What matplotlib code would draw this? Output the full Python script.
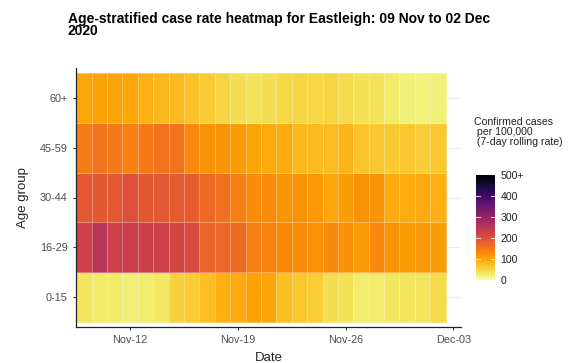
import matplotlib
matplotlib.use("Agg")
import matplotlib.pyplot as plt
import matplotlib.dates as mdates
import numpy as np
import pandas as pd

plt.rcParams["font.family"] = ["Liberation Sans", "DejaVu Sans"]

# ── Data (7-day rolling case rate per 100,000) ─────────────────
dates = pd.date_range("2020-11-09", "2020-12-02", freq="D")
age_groups = ["0-15", "16-29", "30-44", "45-59", "60+"]

rate_0_15 = [35, 30, 30, 25, 28, 32, 55, 62, 75, 90, 95, 105,
             100, 75, 65, 60, 42, 40, 28, 28, 35, 35, 35, 45]
rate_16_29 = [225, 255, 228, 232, 230, 225, 215, 212, 175, 170, 165, 140,
              135, 130, 125, 120, 128, 122, 110, 130, 118, 110, 112, 108]
rate_30_44 = [188, 190, 188, 200, 190, 188, 185, 180, 165, 160, 140, 125,
              125, 118, 120, 112, 98, 108, 120, 118, 95, 92, 95, 88]
rate_45_59 = [145, 155, 148, 140, 148, 155, 155, 130, 120, 118, 110, 100,
              95, 92, 82, 80, 78, 84, 70, 65, 64, 66, 58, 66]
rate_60p = [98, 102, 100, 98, 88, 82, 80, 72, 62, 52, 42, 38,
            42, 50, 52, 50, 52, 45, 40, 38, 30, 22, 20, 25]

cbar_ticks = [0, 100, 200, 300, 400, 500]
cbar_labels = ["0", "100", "200", "300", "400", "500+"]
x_ticks = ["2020-11-12", "2020-11-19", "2020-11-26", "2020-12-03"]

grid = np.array([rate_0_15, rate_16_29, rate_30_44, rate_45_59, rate_60p])

# ── Figure ─────────────────────────────────────────────────────
fig = plt.figure(figsize=(5.71, 3.63), dpi=100, facecolor="white")
ax = fig.add_axes([76 / 571, 1 - 327 / 363, 385 / 571, 259 / 363])

xnum = mdates.date2num(dates)
x_edges = np.append(xnum - 0.5, xnum[-1] + 0.5)
y_edges = np.arange(len(age_groups) + 1) - 0.5

for i in range(len(age_groups)):
    ax.axhline(i, color="#EBEBEB", lw=0.8, zorder=0)

mesh = ax.pcolormesh(x_edges, y_edges, grid, cmap="inferno_r", vmin=0, vmax=500,
                     edgecolors=(1, 1, 1, 0.3), linewidth=0.6, zorder=2)

ax.set_xlim(xnum[0] - 0.52, xnum[-1] + 1.5)
ax.set_ylim(-0.6, 4.6)
ax.set_yticks(range(len(age_groups)))
ax.set_yticklabels(age_groups)
ax.set_xticks(mdates.date2num(pd.to_datetime(x_ticks)))
ax.xaxis.set_major_formatter(mdates.DateFormatter("%b-%d"))
ax.tick_params(axis="both", labelsize=7.8, colors="#333333", length=2.5, width=0.8,
               labelcolor="#4D4D4D")
for side in ["top", "right"]:
    ax.spines[side].set_visible(False)
for side in ["left", "bottom"]:
    ax.spines[side].set_color("#222222")
    ax.spines[side].set_linewidth(0.9)

ax.set_xlabel("Date", fontsize=9.5, color="#222222", labelpad=5)
ax.set_ylabel("Age group", fontsize=9.5, color="#222222", labelpad=8)

fig.text(68 / 571, 1 - 12 / 363,
         "Age-stratified case rate heatmap for Eastleigh: 09 Nov to 02 Dec\n2020",
         fontsize=10, fontweight="bold", ha="left", va="top", linespacing=0.85)

# ── Colour bar legend ──────────────────────────────────────────
cax = fig.add_axes([476 / 571, 1 - 280 / 363, 19 / 571, 105 / 363])
cb = fig.colorbar(mesh, cax=cax)
cb.set_ticks(cbar_ticks)
cb.set_ticklabels(cbar_labels)
cb.outline.set_visible(False)
cax.tick_params(labelsize=7.6, length=0, pad=4, labelcolor="#222222")
for t in cbar_ticks[1:-1]:
    cax.plot([0, 0.2], [t, t], color="white", lw=0.6, transform=cax.get_yaxis_transform())
    cax.plot([0.8, 1], [t, t], color="white", lw=0.6, transform=cax.get_yaxis_transform())

fig.text(474 / 571, 1 - 117 / 363,
         "Confirmed cases\n per 100,000\n (7-day rolling rate)",
         fontsize=7.6, ha="left", va="top", linespacing=1.0, color="#222222")

fig.savefig("out.png", dpi=100, facecolor="white")
